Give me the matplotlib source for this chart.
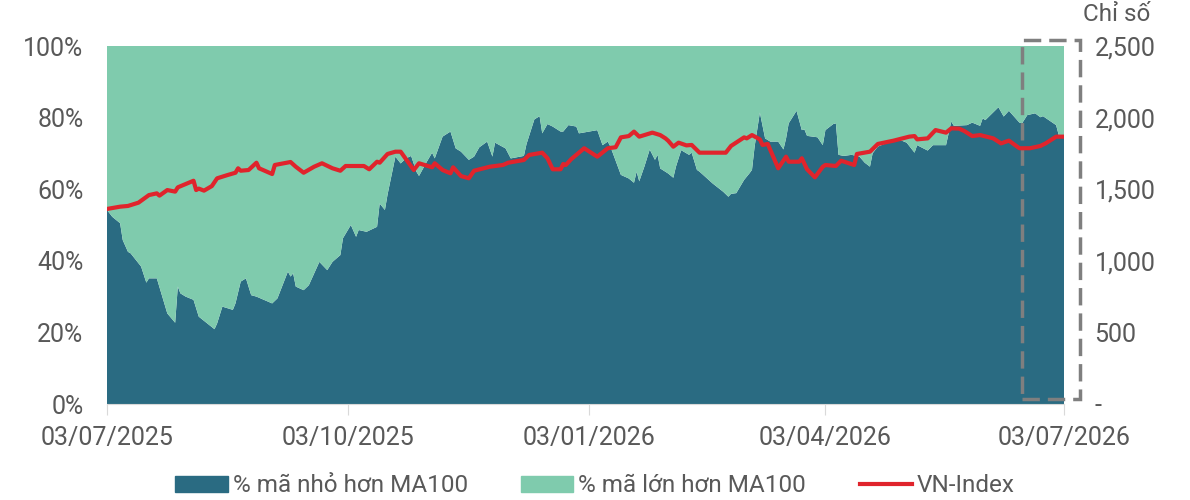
import numpy as np
import pandas as pd
import matplotlib
matplotlib.use("Agg")
import matplotlib.pyplot as plt
import matplotlib.dates as mdates
from matplotlib.patches import Rectangle
from matplotlib.ticker import FuncFormatter

plt.rcParams['font.family'] = ['Roboto', 'DejaVu Sans']

start = pd.Timestamp("2025-07-03")

# % mã nhỏ hơn MA100 (ngày tính từ 03/07/2025, giá trị %)
breadth_days = [0, 2, 5, 6, 8, 9, 13, 15, 16, 19, 23, 26, 27, 28, 30, 33, 35, 41, 42, 44,
                48, 49, 51, 53, 55, 57, 63, 65, 69, 70, 71, 72, 75, 77, 81, 84, 86, 89, 90, 93,
                95, 96, 99, 103, 104, 106, 107, 110, 112, 114, 116, 118, 119, 122, 124, 125, 128, 131, 133, 135,
                138, 140, 142, 145, 147, 148, 152, 154, 159, 160, 163, 165, 166, 168, 170, 173, 174, 176, 179, 180,
                187, 189, 191, 192, 196, 199, 201, 202, 203, 205, 207, 209, 210, 211, 214, 216, 217, 219, 222, 223,
                225, 226, 231, 235, 237, 238, 240, 243, 245, 246, 247, 249, 251, 253, 256, 258, 259, 260, 263, 265,
                266, 267, 271, 273, 274, 277, 278, 279, 281, 284, 287, 289, 291, 292, 294, 300, 301, 305, 308, 309,
                313, 315, 320, 322, 323, 328, 330, 333, 334, 335, 340, 342, 344, 348, 349, 351, 354, 356, 357, 361,
                362, 363, 365]
breadth_below = [54.2, 52.3, 50.5, 45.8, 42.5, 42.1, 38.4, 33.9, 35.1, 35.1, 25.3, 22.7, 32.8, 30.9, 30.0, 29.1, 24.4, 20.9, 22.5, 27.2,
                 26.3, 28.1, 34.2, 35.1, 30.4, 30.0, 28.1, 29.5, 37.0, 35.6, 36.5, 32.8, 31.8, 33.2, 39.7, 37.4, 39.7, 41.6, 46.3, 50.0,
                 46.7, 48.6, 48.1, 49.5, 56.0, 54.2, 58.5, 69.1, 67.2, 68.6, 69.3, 64.9, 63.7, 67.7, 70.2, 68.6, 74.7, 76.1, 71.4, 70.5,
                 68.2, 69.1, 71.7, 73.3, 69.1, 73.0, 71.4, 68.6, 69.3, 72.6, 79.5, 80.4, 75.6, 78.2, 77.5, 76.1, 76.1, 77.9, 77.5, 75.6,
                 76.5, 72.3, 73.3, 71.9, 64.0, 63.0, 61.8, 64.9, 62.2, 66.4, 71.1, 68.2, 69.6, 65.8, 64.4, 63.2, 66.3, 70.9, 69.6, 70.2,
                 65.4, 64.9, 61.6, 59.3, 57.9, 58.7, 58.9, 62.6, 64.4, 65.4, 71.9, 81.4, 74.2, 73.3, 73.3, 71.1, 74.2, 78.4, 81.9, 76.5,
                 76.7, 74.9, 74.5, 72.3, 76.5, 78.2, 78.4, 69.6, 69.3, 69.6, 69.1, 67.4, 66.3, 70.0, 71.9, 73.7, 74.2, 73.0, 70.2, 72.3,
                 70.8, 72.3, 72.3, 78.9, 77.7, 77.9, 78.6, 77.7, 79.8, 79.3, 82.9, 80.3, 81.9, 78.6, 78.4, 80.7, 81.2, 80.1, 80.4, 78.4,
                 77.9, 75.1, 74.7]

# VN-Index
vni_days = [0, 5, 8, 12, 16, 19, 20, 23, 26, 27, 33, 34, 35, 37, 40, 42, 46, 49, 50, 51,
            54, 57, 58, 63, 64, 70, 72, 75, 79, 82, 86, 89, 91, 98, 100, 103, 104, 107, 110, 112,
            117, 119, 124, 125, 128, 131, 132, 135, 138, 140, 146, 151, 153, 159, 161, 166, 168, 170, 173, 174,
            175, 177, 182, 187, 191, 194, 196, 199, 201, 203, 208, 211, 213, 214, 216, 218, 221, 223, 226, 236,
            238, 243, 244, 246, 249, 250, 252, 256, 259, 260, 264, 265, 267, 270, 273, 274, 278, 280, 285, 286,
            291, 294, 300, 306, 308, 309, 313, 316, 320, 322, 325, 327, 330, 333, 338, 341, 344, 348, 352, 356,
            358, 362, 365]
vni = [1362, 1378, 1383, 1406, 1459, 1471, 1455, 1494, 1483, 1513, 1559, 1494, 1504, 1490, 1522, 1576, 1599, 1615, 1646, 1629,
       1634, 1685, 1646, 1606, 1669, 1690, 1657, 1615, 1657, 1681, 1646, 1629, 1662, 1662, 1639, 1692, 1685, 1746, 1762, 1762,
       1634, 1681, 1653, 1681, 1634, 1611, 1653, 1592, 1576, 1629, 1657, 1669, 1685, 1704, 1739, 1755, 1716, 1639, 1639, 1676,
       1669, 1709, 1786, 1727, 1786, 1793, 1862, 1871, 1902, 1867, 1895, 1878, 1855, 1839, 1797, 1825, 1806, 1809, 1755, 1755,
       1802, 1862, 1855, 1878, 1848, 1809, 1816, 1646, 1727, 1692, 1692, 1716, 1639, 1583, 1657, 1669, 1662, 1699, 1669, 1746,
       1762, 1816, 1839, 1867, 1871, 1848, 1855, 1913, 1895, 1925, 1923, 1906, 1871, 1878, 1855, 1820, 1839, 1786, 1786, 1802,
       1820, 1867, 1867]

tick_dates = ["2025-07-03", "2025-10-03", "2026-01-03", "2026-04-03", "2026-07-03"]

dark = "#2a6b82"
light = "#7fcbad"
red = "#e0242c"
grey = "#595959"

b_dates = start + pd.to_timedelta(breadth_days, unit="D")
v_dates = start + pd.to_timedelta(vni_days, unit="D")
below = np.array(breadth_below)

fig = plt.figure(figsize=(11.9, 5), dpi=100)
ax = fig.add_axes([107 / 1190, 96 / 500, 957 / 1190, 358 / 500])
ax.stackplot(b_dates, below, 100 - below, colors=[dark, light], linewidth=0)
ax.set_ylim(0, 100)
ax.set_xlim(start, start + pd.Timedelta(days=365))
ax.set_yticks(range(0, 101, 20))
ax.yaxis.set_major_formatter(FuncFormatter(lambda v, p: f"{v:.0f}%"))
ax.tick_params(axis="y", length=0, pad=17, labelsize=18, labelcolor=grey)
ax.set_xticks(pd.to_datetime(tick_dates))
ax.xaxis.set_major_formatter(mdates.DateFormatter("%d/%m/%Y"))
ax.tick_params(axis="x", length=8, color="#d9d9d9", pad=8, labelsize=18, labelcolor=grey)
for s in ["top", "left", "right"]:
    ax.spines[s].set_visible(False)
ax.spines["bottom"].set_color("#d9d9d9")

ax2 = ax.twinx()
ax2.plot(v_dates, vni, color=red, linewidth=3)
ax2.set_ylim(0, 2500)
ax2.set_yticks(range(0, 2501, 500))
ax2.yaxis.set_major_formatter(FuncFormatter(lambda v, p: "-" if v == 0 else f"{v:,.0f}"))
ax2.tick_params(axis="y", length=0, pad=22, labelsize=18, labelcolor=grey)
for s in ["top", "left", "right", "bottom"]:
    ax2.spines[s].set_visible(False)
ax2.text(1.0199, 1.087, "Chỉ số", transform=ax2.transAxes, fontsize=17.5, color=grey,
         ha="left", va="center")

# khung nét đứt đánh dấu giai đoạn gần nhất
x0 = mdates.date2num(start + pd.Timedelta(days=349))
x1 = mdates.date2num(start + pd.Timedelta(days=371))
rect = Rectangle((x0, 1.4), x1 - x0, 100.3, fill=False, edgecolor="#7f7f7f",
                 linestyle=(0, (5, 2.3)), linewidth=2.5, clip_on=False, zorder=5)
ax.add_patch(rect)

handles = [plt.Rectangle((0, 0), 1, 1, color=dark), plt.Rectangle((0, 0), 1, 1, color=light),
           plt.Line2D([0], [0], color=red, linewidth=3)]
labels = ["% mã nhỏ hơn MA100", "% mã lớn hơn MA100", "VN-Index"]
fig.legend(handles, labels, loc="center", bbox_to_anchor=(0.5, 0.028), ncol=3, frameon=False,
           fontsize=17.5, labelcolor=grey, handlelength=2.15, handleheight=0.62, handletextpad=0.2,
           columnspacing=2.2)

fig.savefig("out.png", dpi=100)
